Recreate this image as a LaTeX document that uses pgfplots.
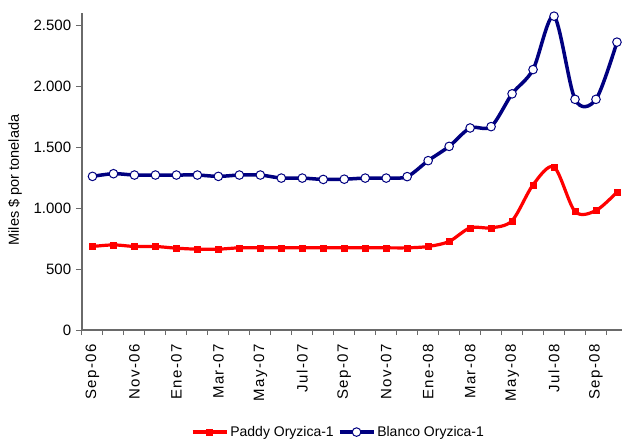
\documentclass[border=0pt]{standalone}
\usepackage{pgfplots}
\pgfplotsset{compat=1.18}
\usepackage{fontspec}
\setmainfont{Liberation Sans}
\definecolor{navy}{HTML}{000080}
\definecolor{axgray}{HTML}{6A6A6A}
\pgfplotstableread{
x paddy blanco
0 685 1260
1 698 1282
2 685 1271
3 685 1271
4 671 1271
5 663 1271
6 663 1260
7 674 1271
8 674 1271
9 674 1246
10 674 1246
11 674 1235
12 674 1237
13 674 1246
14 674 1246
15 674 1258
16 685 1389
17 726 1506
18 838 1657
19 838 1668
20 896 1937
21 1191 2136
22 1337 2574
23 972 1892
24 980 1892
25 1131 2361
}\datatable
\begin{document}
\fontsize{14}{16}\selectfont
\begin{tikzpicture}
\begin{axis}[
  at={(0,0)}, anchor=south west,
  scale only axis, width=540pt, height=317pt,
  xmin=-0.5, xmax=25.24, ymin=0, ymax=2600,
  axis lines*=left,
  axis line style={axgray, line width=1.3pt, -},
  every tick/.style={axgray, line width=1pt},
  tick align=outside,
  xtick={0,2,...,24},
  xticklabels={Sep-06,Nov-06,Ene-07,Mar-07,May-07,Jul-07,Sep-07,Nov-07,Ene-08,Mar-08,May-08,Jul-08,Sep-08},
  minor xtick={-0.5,0.5,...,25},
  major x tick style={draw=none},
  minor tick length=5pt,
  xticklabel style={rotate=90, anchor=east, xshift=-3pt, font=\fontsize{15}{17}\selectfont\addfontfeatures{LetterSpace=10}},
  ytick={0,500,1000,1500,2000,2500},
  yticklabels={0,500,1.000,1.500,2.000,2.500},
  major tick length=6pt,
  yticklabel style={font=\fontsize{15}{17}\selectfont},
  ylabel={Miles \$ por tonelada},
  ylabel style={at={(rel axis cs:0,0.473)}, anchor=center, yshift=67pt, font=\fontsize{14.5}{16}\selectfont},
  legend columns=2,
  legend style={at={(rel axis cs:0.475,-0.322)}, anchor=center, draw=none, fill=none,
    font=\fontsize{14}{16}\selectfont, /tikz/every even column/.append style={column sep=2pt}},
  legend image code/.code={\draw[mark repeat=2,mark phase=2] plot coordinates {(0pt,0pt)(17pt,0pt)(34pt,0pt)};},
  clip=false,
]
\addplot[red, line width=3.2pt, smooth, mark=square*, mark size=3pt, mark options={solid, fill=red, draw=red, line width=0.5pt}] table[x=x, y=paddy] {\datatable};
\addlegendentry{Paddy Oryzica-1}
\addplot[navy, line width=3.5pt, smooth, mark=*, mark size=4.3pt, mark options={solid, fill=white, draw=navy, line width=1pt}] table[x=x, y=blanco] {\datatable};
\addlegendentry{Blanco Oryzica-1}
\end{axis}
\pgfresetboundingbox
\path[use as bounding box] (-82pt,-110pt) rectangle (540pt,330pt);
\end{tikzpicture}
\end{document}
